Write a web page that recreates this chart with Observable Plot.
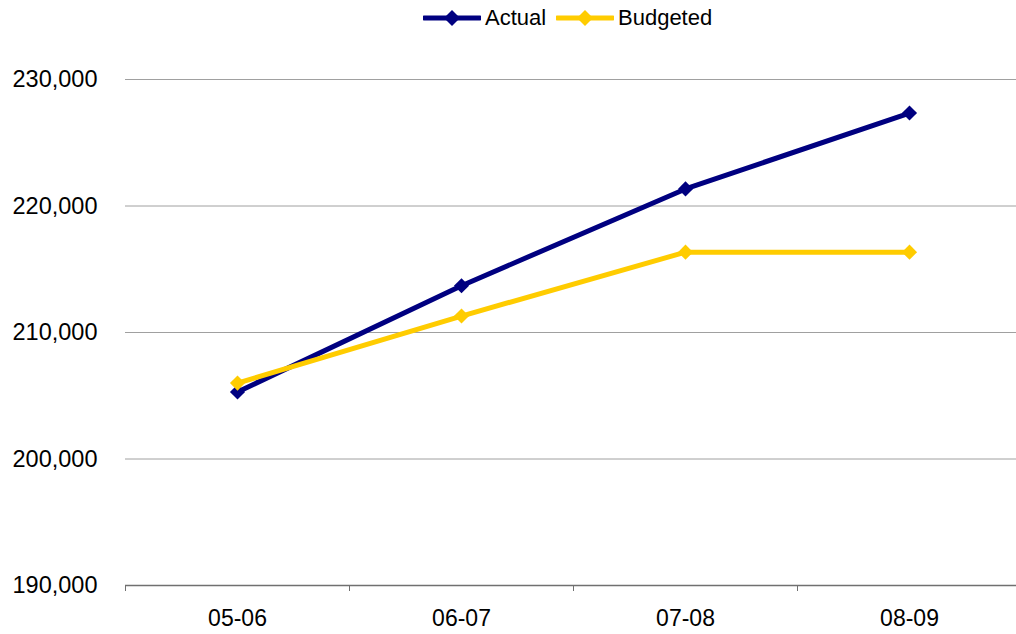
<!DOCTYPE html>
<html>
<head>
<meta charset="utf-8">
<script src="https://cdn.jsdelivr.net/npm/d3@7"></script>
<script src="https://cdn.jsdelivr.net/npm/@observablehq/plot@0.6"></script>
<style>
  html, body { margin: 0; padding: 0; background: #fff; }
  body { width: 1016px; height: 634px; overflow: hidden; font-family: "Liberation Sans", Arial, sans-serif; }
  #legend { height: 36px; position: relative; font-size: 22px; color: #000; }
  .item { position: absolute; top: 5px; display: flex; align-items: center; height: 26px; }
  .item svg { margin-right: 4px; }
</style>
</head>
<body>
<div id="legend"></div>
<div id="chart"></div>
<script>
const categories = ["05-06", "06-07", "07-08", "08-09"];
const actual = [205300, 213700, 221350, 227350];
const budgeted = [206000, 211300, 216350, 216350];
const yTicks = [190000, 200000, 210000, 220000, 230000];
const seriesNames = ["Actual", "Budgeted"];
const seriesColors = ["#000080", "#FFCC00"];

const rows = [];
[actual, budgeted].forEach((vals, s) => {
  vals.forEach((v, i) => rows.push({series: seriesNames[s], i: i + 0.5, cat: categories[i], value: v}));
});

const fmt = d3.format(",");
const chart = Plot.plot({
  width: 1016,
  height: 598,
  marginTop: 43,
  marginBottom: 49,
  marginLeft: 125,
  marginRight: 0,
  style: {fontFamily: "'Liberation Sans', Arial, sans-serif", fontSize: "23px", color: "#000", background: "#fff", overflow: "visible"},
  x: {domain: [0, categories.length], range: [125, 1021]},
  y: {domain: [190000, 230000]},
  color: {domain: seriesNames, range: seriesColors},
  marks: [
    Plot.ruleY(yTicks.slice(1), {stroke: "#a0a0a0", strokeWidth: 1}),
    Plot.ruleY([190000], {stroke: "#707070", strokeWidth: 1.3}),
    Plot.axisY({ticks: yTicks, tickSize: 0, tickPadding: 28, tickFormat: fmt, fontSize: 23.5, label: null}),
    Plot.axisX({ticks: d3.range(categories.length), tickSize: 6, tickFormat: () => "", stroke: "#707070", label: null}),
    Plot.axisX({ticks: categories.map((c, i) => i + 0.5), tickSize: 0, tickPadding: 24, tickFormat: d => categories[Math.floor(d)], fontSize: 23, label: null}),
    Plot.line(rows, {x: "i", y: "value", stroke: "series", z: "series", strokeWidth: 5, strokeLinejoin: "round"}),
    Plot.dot(rows, {x: "i", y: "value", fill: "series", symbol: "diamond2", r: 6.8, stroke: "none"})
  ]
});
document.getElementById("chart").appendChild(chart);

// legend
const legend = document.getElementById("legend");
const lefts = [423, 556];
seriesNames.forEach((name, s) => {
  const div = document.createElement("div");
  div.className = "item";
  div.style.left = lefts[s] + "px";
  div.innerHTML = `<svg width="58" height="20" viewBox="0 0 58 20"><line x1="1" y1="10" x2="57" y2="10" stroke="${seriesColors[s]}" stroke-width="5" stroke-linecap="round"/><path d="M29,2 L37,10 L29,18 L21,10 Z" fill="${seriesColors[s]}"/></svg><span>${name}</span>`;
  legend.appendChild(div);
});
</script>
</body>
</html>
